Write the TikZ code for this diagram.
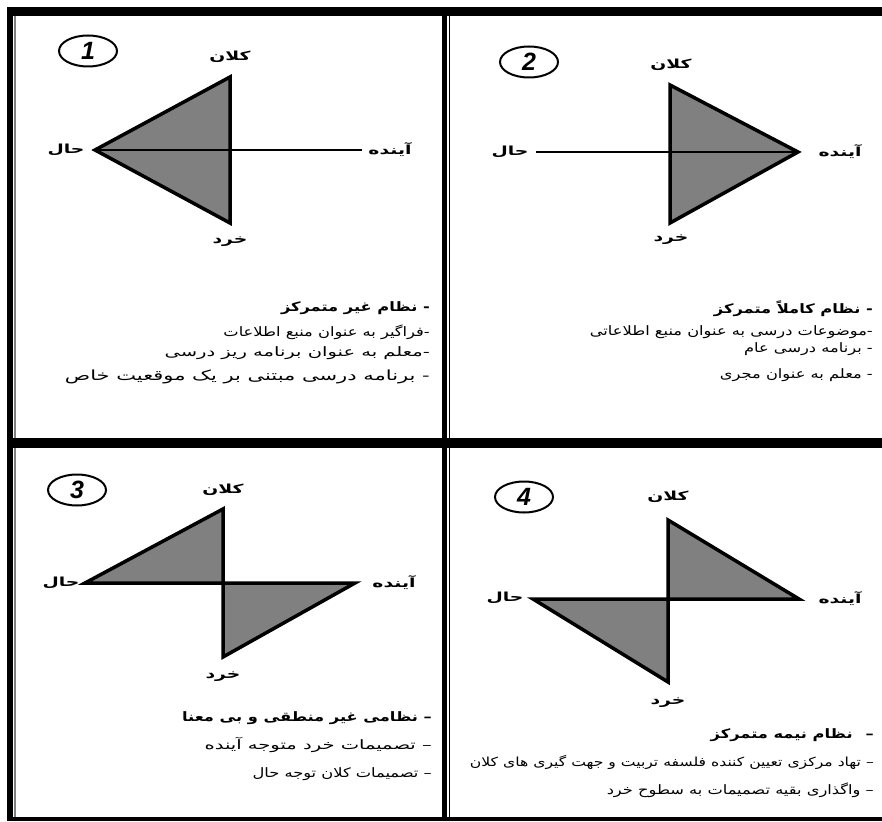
\documentclass[tikz,border=0pt]{standalone}
\usepackage{fontspec}
\usetikzlibrary{shapes.geometric}
\setmainfont{Liberation Serif}
\newfontfamily\farsi[Script=Arabic,FakeStretch=1.25]{DejaVu Sans}
\newfontfamily\farsiwide[Script=Arabic,FakeStretch=1.5]{DejaVu Sans}
\newfontfamily\numfont{Liberation Sans}
\TeXXeTstate=1
\definecolor{shade}{RGB}{128,128,128}

\begin{document}
\begin{tikzpicture}[x=1pt,y=-1pt,
  tri/.style={fill=shade,draw=black,line width=3.5pt,line join=miter},
  axis/.style={draw=black,line width=2.2pt},
  vlabel/.style={font=\farsiwide\fontsize{12.5}{14}\selectfont\bfseries,inner sep=0pt},
  numcirc/.style={draw,ellipse,line width=2pt,minimum width=58pt,minimum height=31pt,inner sep=0pt,
    font=\numfont\fontsize{25}{25}\selectfont\bfseries\itshape},
  headline/.style={anchor=east,font=\farsi\fontsize{13}{15}\selectfont\bfseries,inner sep=0pt},
  itemline/.style={anchor=east,font=\farsi\fontsize{13}{15}\selectfont,inner sep=0pt},
  wideline/.style={itemline,font=\farsiwide\fontsize{13}{15}\selectfont}]
\useasboundingbox (0,0) rectangle (882,821);

\fill (7,7) rectangle (882,16);
\fill (7,7) rectangle (13,821);
\fill (7,817) rectangle (882,821);
\draw[gray,line width=1.2pt] (15,16) -- (15,817);
\fill (13,438) rectangle (882,448);
\fill (442,16) rectangle (447,817);
\draw[line width=1.2pt] (449.5,16) -- (449.5,817);

\node[numcirc] (num1) at (88,51) {1};
\coordinate (hal1) at (95,150);
\coordinate (kalan1) at (230,77);
\coordinate (khord1) at (230,223);
\coordinate (ayande1) at (362,150);
\filldraw[tri] (hal1) -- (kalan1) -- (khord1) -- cycle;
\draw[axis] (hal1) -- (ayande1);
\node[vlabel] (lhal1) at (66,150) {\beginR حال\endR};
\node[vlabel] (lkalan1) at (230,57) {\beginR کلان\endR};
\node[vlabel] (lkhord1) at (230,242) {\beginR خرد\endR};
\node[vlabel] (layande1) at (390,150) {\beginR آینده\endR};
\node[headline] (t1a) at (430,308) {\beginR - نظام غیر متمرکز\endR};
\node[itemline] (t1b) at (430,332) {\beginR -\kern0pt فراگیر به عنوان منبع اطلاعات\endR};
\node[wideline] (t1c) at (430,353) {\beginR -\kern0pt معلم به عنوان برنامه ریز درسی\endR};
\node[wideline,font=\farsiwide\fontsize{14}{16}\selectfont] (t1d) at (430,377) {\beginR - برنامه درسی مبتنی بر یک موقعیت خاص\endR};

\node[numcirc] (num2) at (529,62) {2};
\coordinate (hal2) at (536,152);
\coordinate (kalan2) at (670,85);
\coordinate (khord2) at (670,223);
\coordinate (ayande2) at (798,152);
\filldraw[tri] (kalan2) -- (ayande2) -- (khord2) -- cycle;
\draw[axis] (hal2) -- (ayande2);
\node[vlabel] (lhal2) at (510,152) {\beginR حال\endR};
\node[vlabel] (lkalan2) at (671,65) {\beginR کلان\endR};
\node[vlabel] (lkhord2) at (671,240) {\beginR خرد\endR};
\node[vlabel] (layande2) at (840,152) {\beginR آینده\endR};
\node[headline] (t2a) at (873,309) {\beginR - نظام کاملاً متمرکز\endR};
\node[itemline] (t2b) at (873,332) {\beginR -\kern0pt موضوعات درسی به عنوان منبع اطلاعاتی\endR};
\node[itemline] (t2c) at (873,349) {\beginR - برنامه درسی عام\endR};
\node[itemline] (t2d) at (873,375) {\beginR - معلم به عنوان مجری\endR};

\node[numcirc] (num3) at (77,490) {3};
\coordinate (hal3) at (85,583);
\coordinate (kalan3) at (223,509);
\coordinate (mid3) at (223,583);
\coordinate (khord3) at (223,657);
\coordinate (ayande3) at (355,583);
\filldraw[tri] (hal3) -- (kalan3) -- (mid3) -- cycle;
\filldraw[tri] (mid3) -- (ayande3) -- (khord3) -- cycle;
\node[vlabel] (lhal3) at (61,583) {\beginR حال\endR};
\node[vlabel] (lkalan3) at (223,490) {\beginR کلان\endR};
\node[vlabel] (lkhord3) at (223,677) {\beginR خرد\endR};
\node[vlabel] (layande3) at (394,583) {\beginR آینده\endR};
\node[headline] (t3a) at (432,718) {\beginR – نظامی غیر منطقی و بی معنا\endR};
\node[wideline] (t3b) at (432,745) {\beginR – تصمیمات خرد متوجه آینده\endR};
\node[itemline] (t3c) at (432,774) {\beginR – تصمیمات کلان توجه حال\endR};

\node[numcirc] (num4) at (524,497) {4};
\coordinate (hal4) at (533,599);
\coordinate (kalan4) at (668,520);
\coordinate (mid4) at (668,599);
\coordinate (khord4) at (668,682);
\coordinate (ayande4) at (799,599);
\filldraw[tri] (kalan4) -- (ayande4) -- (mid4) -- cycle;
\filldraw[tri] (hal4) -- (mid4) -- (khord4) -- cycle;
\node[vlabel] (lhal4) at (505,598) {\beginR حال\endR};
\node[vlabel] (lkalan4) at (668,497) {\beginR کلان\endR};
\node[vlabel] (lkhord4) at (668,703) {\beginR خرد\endR};
\node[vlabel] (layande4) at (840,599) {\beginR آینده\endR};
\node[headline] (t4a) at (874,735) {\beginR –\quad نظام نیمه متمرکز\endR};
\node[itemline,font=\farsi\fontsize{12.5}{15}\selectfont] (t4b) at (874,762) {\beginR – تهاد مرکزی تعیین کننده فلسفه تربیت و جهت گیری های کلان\endR};
\node[itemline] (t4c) at (874,790) {\beginR – واگذاری بقیه تصمیمات به سطوح خرد\endR};
\end{tikzpicture}
\end{document}
